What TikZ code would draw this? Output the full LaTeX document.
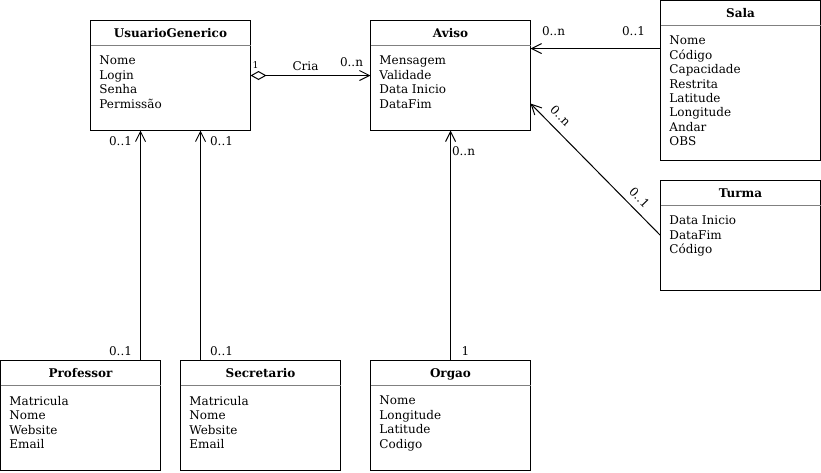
\documentclass[tikz,border=0pt]{standalone}
\usepackage{fontspec}
\setmainfont{DejaVu Serif}
\usetikzlibrary{arrows.meta}
\tikzset{
  cls/.style={draw=black, line width=0.75pt, rectangle, minimum width=120pt, minimum height=82.5pt, inner sep=0pt, outer sep=0pt},
  ttl/.style={font=\fontsize{9}{10.8}\selectfont\bfseries, anchor=base, inner sep=0pt},
  attrs/.style={font=\fontsize{9}{10.8}\selectfont, align=left, anchor=north west, inner sep=0pt},
  sepline/.style={draw=gray, line width=0.75pt},
  lbl/.style={font=\fontsize{9}{10.8}\selectfont, inner sep=0pt},
  conn/.style={line width=0.75pt},
  nav/.style={-{Straight Barb[length=7.5pt,width=7.5pt]}},
  agg/.style={{Diamond[open,length=12pt,width=6.75pt]}-{Straight Barb[length=7.5pt,width=7.5pt]}}
}
\newcommand\umlclassbox[5]{%
  \node[cls, minimum height=#3] (#1) at #2 {};
  \node[ttl] (#1-t) at ([yshift=-13.1pt]#1.north) {#4};
  \draw[sepline] ([yshift=-18.75pt]#1.north west) -- ([yshift=-18.75pt]#1.north east);
  \node[attrs] (#1-a) at ([xshift=6.5pt,yshift=-26.5pt]#1.north west) {#5};
}
\begin{document}
\begin{tikzpicture}[x=0.75pt,y=-0.75pt]
\useasboundingbox (-0.5,-0.5) rectangle (820.5,471.5);

\umlclassbox{usuario}{(170,75)}{82.5pt}{UsuarioGenerico}{Nome\\Login\\Senha\\Permissão}
\umlclassbox{aviso}{(450,75)}{82.5pt}{Aviso}{Mensagem\\Validade\\Data Inicio\\DataFim}
\umlclassbox{sala}{(740,80)}{120pt}{Sala}{Nome\\Código\\Capacidade\\Restrita\\Latitude\\Longitude\\Andar\\OBS}
\umlclassbox{turma}{(740,235)}{82.5pt}{Turma}{Data Inicio\\DataFim\\Código}
\umlclassbox{professor}{(80,415)}{82.5pt}{Professor}{Matricula\\Nome\\Website\\Email}
\umlclassbox{secretario}{(260,415)}{82.5pt}{Secretario}{Matricula\\Nome\\Website\\Email}
\umlclassbox{orgao}{(450,415)}{82.5pt}{Orgao}{Nome\\Longitude\\Latitude\\Codigo}

\draw[conn,agg] (usuario.east) -- (aviso.west);
\draw[conn,nav] ([yshift=24pt]sala.west) -- ([yshift=20.25pt]aviso.east);
\draw[conn,nav] (turma.west) -- ([yshift=-21pt]aviso.east);
\draw[conn,nav] ([xshift=45pt]professor.north) -- ([xshift=-22.5pt]usuario.south);
\draw[conn,nav] ([xshift=-45pt]secretario.north) -- ([xshift=22.5pt]usuario.south);
\draw[conn,nav] (orgao.north) -- (aviso.south);

\node[lbl,font=\fontsize{7}{8}\selectfont] (l-agg1) at (255,65) {1};
\node[lbl] (l-cria) at (305,66) {Cria};
\node[lbl] (l-aggn) at (351,62) {0..n};
\node[lbl] (l-salan) at (553,31) {0..n};
\node[lbl] (l-sala1) at (633,31) {0..1};
\node[lbl,rotate=-45.7] (l-turman) at (560,115) {0..n};
\node[lbl,rotate=-45.7] (l-turma1) at (639,197) {0..1};
\node[lbl] (l-prof1) at (120,141) {0..1};
\node[lbl] (l-prof2) at (120,351) {0..1};
\node[lbl] (l-sec1) at (221,141) {0..1};
\node[lbl] (l-sec2) at (221,351) {0..1};
\node[lbl] (l-orgn) at (463,151) {0..n};
\node[lbl] (l-org1) at (465,351) {1};
\end{tikzpicture}
\end{document}
